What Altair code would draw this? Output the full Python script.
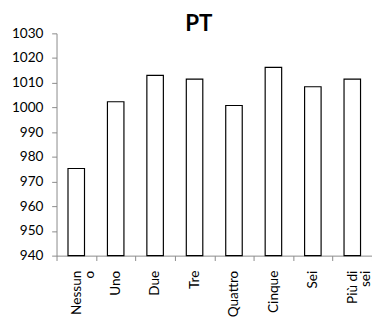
import altair as alt
import pandas as pd

categories = ["Nessuno", "Uno", "Due", "Tre", "Quattro", "Cinque", "Sei", "Più di sei"]
values = [975.3, 1002.3, 1013.0, 1011.5, 1000.8, 1016.2, 1008.4, 1011.5]
y_ticks = [940, 950, 960, 970, 980, 990, 1000, 1010, 1020, 1030]

df = pd.DataFrame({"cat": categories, "val": values})

label_expr = ("datum.label == 'Nessuno' ? ['Nessun','o'] : "
              "datum.label == 'Più di sei' ? ['Più di','sei'] : datum.label")

chart = alt.Chart(df).mark_bar(
    width=17, fill="white", stroke="#000000", strokeWidth=1.2
).encode(
    x=alt.X("cat:N", sort=categories, title=None,
            scale=alt.Scale(paddingInner=0, paddingOuter=0),
            axis=alt.Axis(labelAngle=-90, labelAlign="right", labelBaseline="middle",
                          labelExpr=label_expr, tickBand="extent", tickSize=5,
                          labelPadding=10, labelFontSize=14, labelFont="Lato",
                          labelColor="#000000", domainColor="#888888", tickColor="#888888",
                          labelLineHeight=14, labelLimit=200, labelOverlap=False)),
    y=alt.Y("val:Q", title=None,
            scale=alt.Scale(domain=[940, 1030], zero=False, nice=False),
            axis=alt.Axis(values=y_ticks, format="d", grid=False, tickSize=5, labelFontSize=14,
                          labelFont="Lato", labelColor="#000000", labelPadding=9,
                          domainColor="#888888", tickColor="#888888")),
    y2=alt.datum(940),
).properties(
    width=325, height=229,
    title=alt.Title("PT", fontSize=23, font="Lato", fontWeight="bold",
                    anchor="middle", dx=-16, offset=-10, color="#000000"),
    autosize=alt.AutoSizeParams(type="none"),
    padding={"left": 50, "top": 21, "right": 0, "bottom": 90},
).configure_view(stroke=None)

chart.save("out.html", embed_options={"renderer": "svg", "actions": False})
